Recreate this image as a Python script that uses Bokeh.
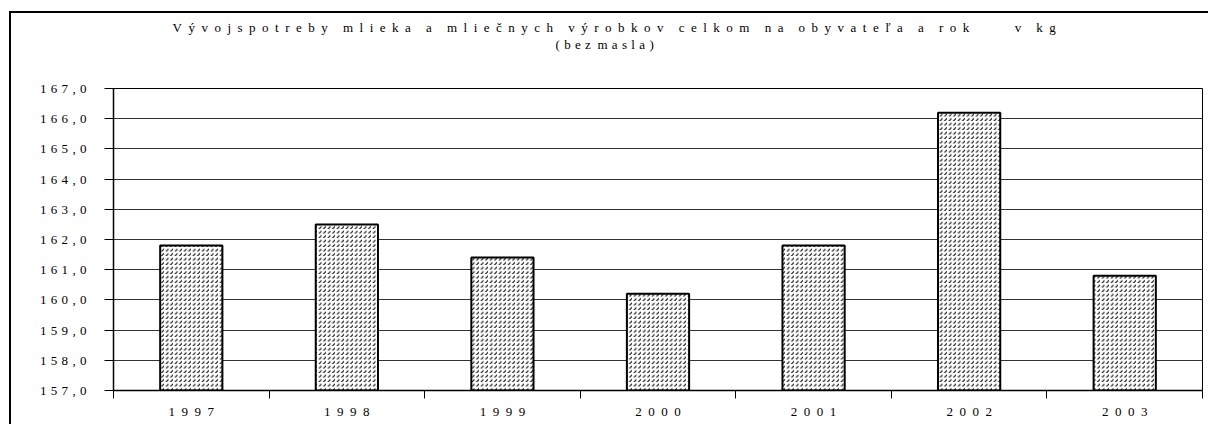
from bokeh.plotting import figure
from bokeh.models import Range1d, FixedTicker, Title, ColumnDataSource
from bokeh.embed import file_html
from bokeh.resources import INLINE

years = ["1997", "1998", "1999", "2000", "2001", "2002", "2003"]
consumption = [161.8, 162.5, 161.4, 160.2, 161.8, 166.2, 160.8]
y_ticks = [157, 158, 159, 160, 161, 162, 163, 164, 165, 166, 167]
title_line1 = "Vývojspotreby mlieka a mliečnych výrobkov celkom na obyvateľa a rok   v kg"
title_line2 = "(bez masla)"


def spaced(s, gap, word):
    out = ""
    prev = None
    for c in s:
        if c == " ":
            out += word
        else:
            if prev is not None and prev != " ":
                out += gap
            out += c
        prev = c
    return out


FONT = "Liberation Serif"
xs = list(range(len(years)))
src = ColumnDataSource(dict(x=xs, top=consumption))

p = figure(width=1199, height=413, output_backend="svg", toolbar_location=None,
           x_range=Range1d(-0.5, len(years) - 0.5), y_range=Range1d(157, 167),
           min_border_left=102, min_border_right=8, min_border_top=75, min_border_bottom=36)
p.styles = {"border-left": "2px solid black", "border-top": "2px solid black",
            "margin-left": "9px", "margin-top": "11px"}
p.background_fill_color = "white"
p.border_fill_color = "white"
p.outline_line_color = "black"
p.outline_line_width = 1

p.vbar(x="x", top="top", bottom=157, width=0.4, source=src,
       fill_color="white", line_color="black", line_width=2,
       hatch_pattern="right_diagonal_dash", hatch_color="black", hatch_scale=4.5, hatch_weight=1.1)

p.xgrid.visible = False
p.ygrid.grid_line_color = "#333333"
p.ygrid.grid_line_width = 1
p.ygrid.ticker = FixedTicker(ticks=y_ticks)

p.yaxis.ticker = FixedTicker(ticks=y_ticks)
p.yaxis.major_label_overrides = {t: spaced(f"{t},0", "\u2004", "\u2004") for t in y_ticks}
p.yaxis.major_tick_out = 9
p.yaxis.major_tick_in = 0
p.yaxis.minor_tick_line_color = None
p.yaxis.major_label_standoff = 18
p.yaxis.axis_line_color = "black"
p.yaxis.axis_line_width = 1.5
p.yaxis.major_label_text_font = FONT
p.yaxis.major_label_text_font_size = "13px"
p.yaxis.major_label_text_color = "black"

bounds = [i - 0.5 for i in range(len(years) + 1)]
p.xaxis.ticker = FixedTicker(ticks=xs, minor_ticks=bounds)
p.xaxis.major_label_overrides = {i: spaced(y, "\u2002", "\u2002") for i, y in enumerate(years)}
p.xaxis.major_tick_out = 0
p.xaxis.major_tick_in = 0
p.xaxis.minor_tick_out = 8
p.xaxis.minor_tick_in = 0
p.xaxis.minor_tick_line_color = "black"
p.xaxis.major_label_standoff = 5
p.xaxis.axis_line_color = "black"
p.xaxis.axis_line_width = 1.5
p.xaxis.major_label_text_font = FONT
p.xaxis.major_label_text_font_size = "13px"
p.xaxis.major_label_text_color = "black"

spacer = Title(text=" ", text_font=FONT, text_font_size="13px", standoff=20)
t2 = Title(text=spaced(title_line2, "\u2004", "\u2002"), align="left", offset=442,
           text_font=FONT, text_font_size="13px", text_font_style="normal",
           text_color="black", standoff=0)
t1 = Title(text=spaced(title_line1, "\u2002", "\u2003\u2006"), align="left", offset=59,
           text_font=FONT, text_font_size="13px", text_font_style="normal",
           text_color="black", standoff=0)
p.add_layout(spacer, "above")
p.add_layout(t2, "above")
p.add_layout(t1, "above")

open("out.html", "w").write(file_html(p, INLINE))
